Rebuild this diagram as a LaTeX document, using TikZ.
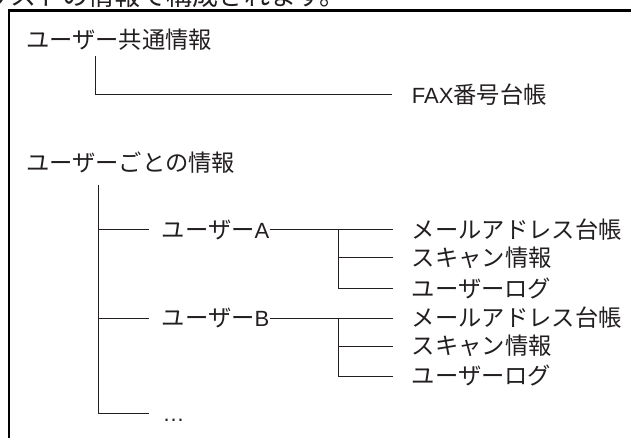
\documentclass[tikz,border=0pt]{standalone}
\usepackage{fontspec}
\setmainfont{Noto Sans CJK JP}
\newfontfamily\latfont{Liberation Sans}
\newcommand\latn[1]{{\latfont\fontsize{22}{26}\selectfont #1}}
\definecolor{ink}{RGB}{35,31,32}
\begin{document}
\begin{tikzpicture}[x=1pt,y=-1pt,
  lbl/.style={anchor=west, inner sep=0pt, text height=20.5pt, text depth=2.8pt,
    font=\fontsize{23.3}{28}\selectfont, text=ink},
  conn/.style={draw=ink, line width=1pt},
  frame/.style={draw=black, line width=2.5pt}]
\useasboundingbox (0,0) rectangle (631,438);
\clip (0,0) rectangle (631,438);
% clipped caption above the box
\node[anchor=base east, inner sep=0pt, font=\fontsize{26}{30}\selectfont, text=ink] (cap) at (346,6) {リストの情報で構成されます。};
% open frame
\draw[frame] (9,445) -- (9,10.5) -- (645,10.5);
% labels
\node[lbl] (u1) at (26,40) {ユーザー共通情報};
\node[lbl] (fax) at (411.7,95) {\latn{FAX}番号台帳};
\node[lbl] (u2) at (26,163) {ユーザーごとの情報};
\node[lbl] (ua) at (161.7,229.5) {ユーザー\latn{A}};
\node[lbl] (a1) at (411.7,229.5) {メールアドレス台帳};
\node[lbl] (a2) at (411.7,257.5) {スキャン情報};
\node[lbl] (a3) at (411.7,288.5) {ユーザーログ};
\node[lbl] (ub) at (161.7,318) {ユーザー\latn{B}};
\node[lbl] (b1) at (411.7,318) {メールアドレス台帳};
\node[lbl] (b2) at (411.7,346) {スキャン情報};
\node[lbl] (b3) at (411.7,376) {ユーザーログ};
\node[anchor=base west, inner sep=0pt, text=ink] (dots) at (162.5,421) {\latn{…}};
% connectors
\coordinate (j1) at (95,56);
\draw[conn] (j1) |- ([xshift=-20pt]fax.west);
\coordinate (j2) at (98.7,185);
\coordinate (d0) at (149,413);
\draw[conn] (j2) |- ([xshift=-12.7pt]ua.west);
\draw[conn] (j2) |- ([xshift=-12.7pt]ub.west);
\draw[conn] (j2) |- (d0);
\coordinate (sa) at (338,229.5);
\draw[conn] (ua.east) -- ([xshift=-18.4pt]a1.west);
\draw[conn] (sa) |- ([xshift=-18.4pt]a2.west);
\draw[conn] (sa) |- ([xshift=-18.4pt]a3.west);
\coordinate (sb) at (338,318);
\draw[conn] (ub.east) -- ([xshift=-18.4pt]b1.west);
\draw[conn] (sb) |- ([xshift=-18.4pt]b2.west);
\draw[conn] (sb) |- ([xshift=-18.4pt]b3.west);
\end{tikzpicture}
\end{document}
